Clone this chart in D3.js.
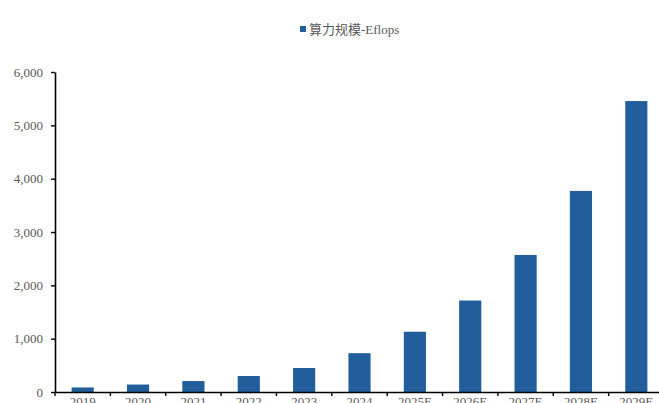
<!DOCTYPE html>
<html><head><meta charset="utf-8">
<script src="https://cdn.jsdelivr.net/npm/d3@7/dist/d3.min.js"></script>
<style>
html,body{margin:0;padding:0;background:#fff;overflow:hidden;}
svg{display:block;}
</style></head>
<body>
<script>
const categories = ["2019","2020","2021","2022","2023","2024","2025E","2026E","2027E","2028E","2029E"];
const values = [85, 140, 205, 300, 450, 728, 1130, 1715, 2570, 3770, 5455];
const yTicks = [0, 1000, 2000, 3000, 4000, 5000, 6000];
const seriesName = "算力规模-Eflops";

const W = 659, H = 403;
const mLeft = 55, mRight = 664, mTop = 72, mBottom = 392;
const barColor = "#215E9B";
const textColor = "#595959";
const font = "'Liberation Serif', 'Noto Sans CJK SC', serif";

const svg = d3.select("body").append("svg").attr("width", W).attr("height", H);

const x = d3.scaleBand().domain(categories).range([mLeft, mRight]).paddingInner(0.6).paddingOuter(0.3);
const xSlot = d3.scaleBand().domain(categories).range([mLeft, mRight]).padding(0);
const y = d3.scaleLinear().domain([0, 6000]).range([mBottom, mTop]);

// bars
svg.append("g").selectAll("rect").data(values).join("rect")
  .attr("x", (d,i) => x(categories[i]))
  .attr("width", x.bandwidth())
  .attr("y", d => y(d))
  .attr("height", d => y(0) - y(d))
  .attr("fill", barColor);

// y axis
const yAxis = svg.append("g").attr("transform", `translate(${mLeft},0)`)
  .call(d3.axisLeft(y).tickValues(yTicks).tickFormat(d3.format(",")).tickSize(4).tickSizeOuter(0));
yAxis.select(".domain").attr("stroke", "#000").attr("stroke-width", 1.6);
yAxis.selectAll(".tick line").attr("stroke", "#000").attr("stroke-width", 1.4);
yAxis.selectAll(".tick text").attr("fill", textColor).style("font-family", font).style("font-size", "13px").attr("x", -12);

// x axis
const xAxis = svg.append("g").attr("transform", `translate(0,${mBottom})`)
  .call(d3.axisBottom(xSlot).tickSize(0).tickSizeOuter(0).tickPadding(5));
xAxis.select(".domain").attr("stroke", "#000").attr("stroke-width", 1.6);
xAxis.selectAll(".tick text").attr("fill", textColor).style("font-family", font).style("font-size", "13px");
// boundary ticks
const bounds = categories.map(c => xSlot(c)).concat([xSlot.range()[1]]);
xAxis.selectAll(".btick").data(bounds).join("line").attr("class","btick")
  .attr("x1", d => d).attr("x2", d => d).attr("y1", 0).attr("y2", 4)
  .attr("stroke", "#000").attr("stroke-width", 1.4);

// legend
const lg = svg.append("g");
lg.append("rect").attr("x", 300).attr("y", 26).attr("width", 6).attr("height", 6).attr("fill", barColor);
lg.append("text").attr("x", 309).attr("y", 29).attr("dy", "0.35em")
  .attr("fill", textColor).style("font-family", font).style("font-size", "13px").text(seriesName);
</script>
</body></html>
